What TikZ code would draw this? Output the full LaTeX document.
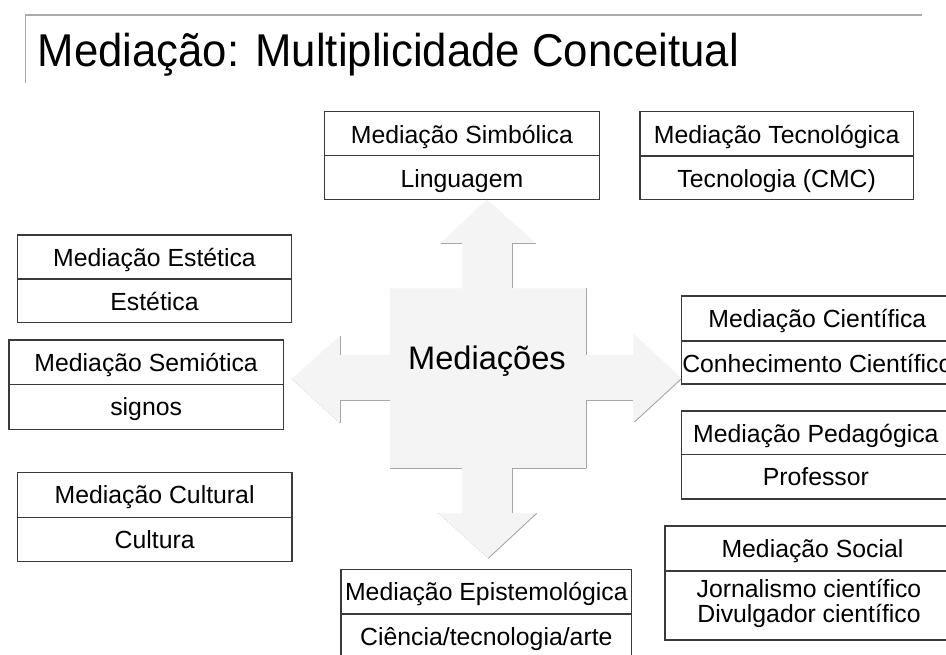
\documentclass[tikz,border=0pt]{standalone}
\usepackage{fontspec}
\setmainfont{Liberation Sans}
\newfontfamily\titlefont[FakeStretch=0.95]{Liberation Sans}
\definecolor{arrowfill}{HTML}{F4F4F4}
\definecolor{edgegray}{HTML}{A6A6A6}
\definecolor{framegray}{HTML}{AAAAAA}
\definecolor{boxline}{HTML}{3A3A3A}
\tikzset{
  boxborder/.style={draw=boxline, line width=1.4pt},
  lab/.style={inner sep=0pt, anchor=base, font=\fontsize{24.8}{28}\selectfont},
  shadeline/.style={draw=edgegray, line width=0.9pt},
  faintline/.style={draw=edgegray!45, line width=0.9pt, dotted},
  frameline/.style={draw=framegray, line width=1.4pt},
}
% #1 name, #2 x1, #3 y top, #4 x2, #5 y divider, #6 y bottom, #7 title, #8 content
\newcommand\mediabox[8]{%
  \draw[boxborder] (#2,#3) rectangle (#4,#6);
  \draw[boxborder] (#2,#5) -- (#4,#5);
  \node[lab] (#1t) at ({(#2+#4)/2},{#3+31.5}) {#7};
  \node[lab] (#1c) at ({(#2+#4)/2},{#5+31.5}) {#8};
}
\begin{document}
\begin{tikzpicture}[x=1pt,y=-1pt]
\useasboundingbox (0,0) rectangle (946,655);
\clip (0,0) rectangle (946,655);
\fill[white] (0,0) rectangle (946,655);

% title frame and title
\draw[frameline] (25.7,83) -- (25.7,15) -- (921.7,15);
\node[inner sep=0pt, anchor=base west, font=\titlefont\fontsize{46}{50}\selectfont] (title) at (37.5,66.7) {Mediação: Multiplicidade Conceitual};

% four-way arrow
\fill[arrowfill] (487,199.5) -- (536,243.3) -- (512.7,243.3) -- (512.7,288.3)
  -- (586,288.3) -- (586,355) -- (633.3,355) -- (633.3,333.5) -- (681.7,378.5)
  -- (633.3,423) -- (633.3,400.7) -- (586,400.7) -- (586,468.3) -- (512.7,468.3)
  -- (512.7,513.3) -- (536.7,513.3) -- (488.3,558.3) -- (438.5,513.3) -- (462.3,513.3)
  -- (462.3,468.3) -- (390,468.3) -- (390,400.7) -- (340,400.7) -- (340,423.3)
  -- (291.7,379) -- (340,335.7) -- (340,355) -- (390,355) -- (390,288.3)
  -- (462.3,288.3) -- (462.3,243.3) -- (440.5,243.3) -- cycle;
\draw[shadeline] (440.5,243.3) -- (462.3,243.3);
\draw[shadeline] (536,243.3) -- (512.7,243.3) -- (512.7,288.3);
\draw[shadeline] (586,288.3) -- (586,355);
\draw[shadeline] (586,468.3) -- (586,400.7) -- (633.3,400.7);
\draw[shadeline] (634.5,422) -- (681.7,378.5);
\draw[shadeline] (390,468.3) -- (462.3,468.3);
\draw[shadeline] (586,468.3) -- (512.7,468.3) -- (512.7,513.3);
\draw[shadeline] (536.7,513.3) -- (488.3,558.3);
\draw[shadeline] (340,335.7) -- (340,355);
\draw[shadeline] (340,423.3) -- (340,400.7) -- (390,400.7);
\draw[faintline] (291.7,379) -- (340,423.3);
\draw[faintline] (438.5,513.3) -- (488.3,558.3);
\node[inner sep=0pt, anchor=base, font=\fontsize{32.6}{36}\selectfont] (center) at (487,370) {Mediações};

% boxes
\mediabox{simb}{324.3}{111.7}{599.5}{155.7}{199.3}{Mediação Simbólica}{Linguagem}
\mediabox{tecn}{640}{111.7}{913.3}{156}{199.3}{Mediação Tecnológica}{Tecnologia (CMC)}
\mediabox{este}{17.3}{235}{291.7}{279}{322.7}{Mediação Estética}{Estética}
\mediabox{semi}{9}{340}{283.3}{384.3}{429.3}{Mediação Semiótica}{signos}
\mediabox{cult}{17.3}{472.3}{292}{517.3}{561.7}{Mediação Cultural}{Cultura}
\mediabox{epis}{341}{569.3}{631.7}{614}{658}{Mediação Epistemológica}{Ciência/tecnologia/arte}
\mediabox{cien}{681.7}{296}{953}{341}{384}{Mediação Científica}{Conhecimento Científico}
\mediabox{peda}{681.7}{411}{950}{454.3}{499}{Mediação Pedagógica}{Professor}

% social box with two-line content
\draw[boxborder] (665,526) rectangle (960,640);
\draw[boxborder] (665,571) -- (960,571);
\node[lab] (socit) at (812.5,557.5) {Mediação Social};
\node[lab] (socia) at (809,597) {Jornalismo científico};
\node[lab] (socib) at (809,622) {Divulgador científico};
\end{tikzpicture}
\end{document}
